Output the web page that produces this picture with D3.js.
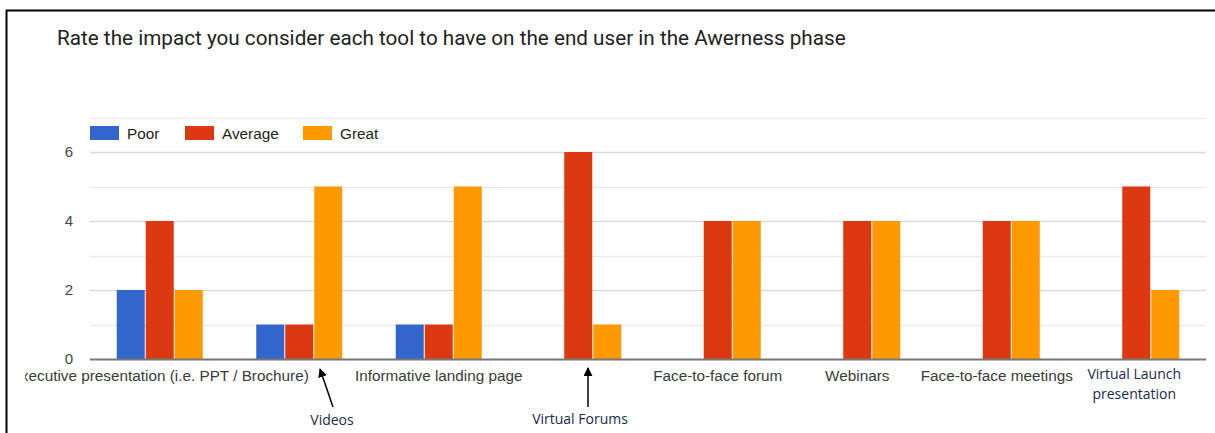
<!DOCTYPE html>
<html>
<head>
<meta charset="utf-8">
<script src="https://cdn.jsdelivr.net/npm/d3@7"></script>
<style>
  html, body { margin: 0; padding: 0; background: #fff; }
  svg { display: block; }
</style>
</head>
<body>
<svg id="chart" width="1215" height="433"></svg>
<script>
// Survey results: rating of each tool's impact in the Awareness phase
const categories = [
  "Executive presentation (i.e. PPT / Brochure)",
  "Videos",
  "Informative landing page",
  "Virtual Forums",
  "Face-to-face forum",
  "Webinars",
  "Face-to-face meetings",
  "Virtual Launch presentation"
];
const seriesNames = ["Poor", "Average", "Great"];
const poor    = [2, 1, 1, 0, 0, 0, 0, 0];
const average = [4, 1, 1, 6, 4, 4, 4, 5];
const great   = [2, 5, 5, 1, 4, 4, 4, 2];
const seriesColors = ["#3366cc", "#dc3912", "#ff9900"];
const yTicks = [0, 2, 4, 6];
const yGridMinor = [1, 3, 5, 7];
// Categories whose axis label is shown; the rest are annotated below the axis
const axisLabelled = [0, 2, 4, 5, 6];

const svg = d3.select("#chart");
const W = 1215, H = 433;
const plot = { left: 90, right: 1206, top: 117.5, bottom: 359 };
const uiFont = "Arial, 'Liberation Sans', sans-serif";

// Frame lines (top and left)
svg.append("line").attr("x1", 6).attr("x2", W).attr("y1", 10.5).attr("y2", 10.5)
  .attr("stroke", "#000").attr("stroke-width", 2);
svg.append("line").attr("x1", 6.5).attr("x2", 6.5).attr("y1", 10).attr("y2", H)
  .attr("stroke", "#000").attr("stroke-width", 2);

// Title
svg.append("text").attr("x", 57).attr("y", 45)
  .attr("font-family", "Roboto, 'Liberation Sans', Arial, sans-serif")
  .attr("font-size", 20.7).attr("fill", "#222")
  .text("Rate the impact you consider each tool to have on the end user in the Awerness phase");

const x0 = d3.scaleBand().domain(d3.range(categories.length))
  .range([plot.left, plot.right]).paddingInner(0).paddingOuter(0);
const groupW = 87;
const x1 = d3.scaleBand().domain(d3.range(seriesNames.length))
  .range([0, groupW]).padding(0);
const y = d3.scaleLinear().domain([0, 7]).range([plot.bottom, plot.top]);

// Gridlines
const grid = svg.append("g");
grid.selectAll("line.minor").data(yGridMinor).join("line")
  .attr("x1", plot.left).attr("x2", plot.right)
  .attr("y1", d => Math.round(y(d)) + 0.5).attr("y2", d => Math.round(y(d)) + 0.5)
  .attr("stroke", "#ebebeb").attr("stroke-width", 1.5);
grid.selectAll("line.major").data(yTicks.filter(d => d > 0)).join("line")
  .attr("x1", plot.left).attr("x2", plot.right)
  .attr("y1", d => Math.round(y(d)) + 0.5).attr("y2", d => Math.round(y(d)) + 0.5)
  .attr("stroke", "#d9d9d9").attr("stroke-width", 1.5);

// Y axis labels
const yAxis = d3.axisLeft(y).tickValues(yTicks).tickSize(0).tickPadding(0).tickFormat(d3.format("d"));
svg.append("g").attr("transform", `translate(${plot.left - 17},0)`).call(yAxis)
  .call(g => g.select(".domain").remove())
  .selectAll("text")
  .attr("font-family", uiFont)
  .attr("font-size", 15).attr("fill", "#444");

// Bars
const seriesValues = [poor, average, great];
const rows = [];
categories.forEach((c, i) => {
  seriesValues.forEach((vals, s) => {
    if (vals[i] > 0) rows.push({ i, s, v: vals[i] });
  });
});
svg.append("g").selectAll("rect").data(rows).join("rect")
  .attr("x", d => x0(d.i) + (x0.bandwidth() - groupW) / 2 + x1(d.s) + 0.5)
  .attr("width", x1.bandwidth() - 1)
  .attr("y", d => y(d.v))
  .attr("height", d => y(0) - y(d.v))
  .attr("fill", d => seriesColors[d.s]);

// Baseline
svg.append("line").attr("x1", plot.left).attr("x2", plot.right)
  .attr("y1", plot.bottom + 0.5).attr("y2", plot.bottom + 0.5)
  .attr("stroke", "#777").attr("stroke-width", 2);

// X axis labels (clipped at the frame)
svg.append("clipPath").attr("id", "labelClip")
  .append("rect").attr("x", 25).attr("y", 360).attr("width", W - 25).attr("height", 40);
const xAxis = d3.axisBottom(x0).tickSize(0).tickPadding(0)
  .tickValues(axisLabelled).tickFormat(i => categories[i]);
svg.append("g").attr("clip-path", "url(#labelClip)")
  .append("g").attr("transform", `translate(0,${plot.bottom + 11})`).call(xAxis)
  .call(g => g.select(".domain").remove())
  .selectAll("text")
  .attr("font-family", uiFont)
  .attr("font-size", 15.3).attr("fill", "#3a3a3a");

// Legend
const legend = svg.append("g").attr("transform", "translate(90,126)");
const legendX = [0, 95, 213];
seriesNames.forEach((name, s) => {
  const g = legend.append("g").attr("transform", `translate(${legendX[s]},0)`);
  g.append("rect").attr("width", 29).attr("height", 14).attr("fill", seriesColors[s]);
  g.append("text").attr("x", 37).attr("y", 13)
    .attr("font-family", uiFont)
    .attr("font-size", 15.3).attr("fill", "#222").text(name);
});

// Annotations for categories without an axis label
const annoFont = "'Open Sans', 'Noto Sans', sans-serif";
const annoColor = "#1c2a4a";
svg.append("defs").append("marker").attr("id", "arrowHead")
  .attr("viewBox", "0 0 10 10").attr("refX", 9).attr("refY", 5)
  .attr("markerWidth", 9).attr("markerHeight", 9).attr("orient", "auto")
  .attr("markerUnits", "userSpaceOnUse")
  .append("path").attr("d", "M0,0 L10,5 L0,10 Z").attr("fill", "#000");

svg.append("line").attr("x1", 333).attr("y1", 407).attr("x2", 320).attr("y2", 369)
  .attr("stroke", "#000").attr("stroke-width", 1.5).attr("marker-end", "url(#arrowHead)");
svg.append("line").attr("x1", 588).attr("y1", 407).attr("x2", 588).attr("y2", 368)
  .attr("stroke", "#000").attr("stroke-width", 1.5).attr("marker-end", "url(#arrowHead)");

const annos = [
  { i: 1, cx: 332, lines: [categories[1]], y0: 425 },
  { i: 3, cx: 580, lines: [categories[3]], y0: 424 },
  { i: 7, cx: x0(7) + x0.bandwidth() / 2 - 2, lines: ["Virtual Launch", "presentation"], y0: 379 }
];
annos.forEach(a => {
  const t = svg.append("text").attr("text-anchor", "middle")
    .attr("font-family", annoFont).attr("font-size", 14).attr("fill", annoColor);
  a.lines.forEach((ln, k) => {
    t.append("tspan").attr("x", a.cx).attr("y", a.y0 + k * 20).text(ln);
  });
});
</script>
</body>
</html>
